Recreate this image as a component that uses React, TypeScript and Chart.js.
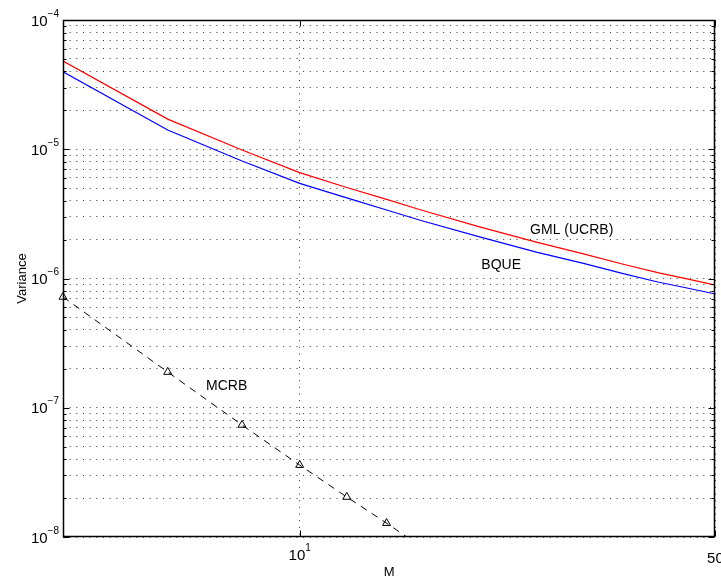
import React, { useEffect, useRef } from 'react';
import { Chart, registerables } from 'chart.js';

Chart.register(...registerables);

const FONT = '"Liberation Sans", Arial, Helvetica, sans-serif';

// M values and variances
const mValues = [4, 6, 8, 10, 12, 14, 16, 20, 25, 30, 35, 40, 45, 50];
const gmlValues = [4.82e-5, 1.71e-5, 9.87e-6, 6.59e-6, 5.06e-6, 4.09e-6, 3.39e-6, 2.52e-6, 1.91e-6, 1.55e-6, 1.29e-6, 1.11e-6, 9.9e-7, 8.9e-7];
const bqueValues = [3.98e-5, 1.41e-5, 8.11e-6, 5.45e-6, 4.2e-6, 3.39e-6, 2.81e-6, 2.11e-6, 1.6e-6, 1.31e-6, 1.09e-6, 9.4e-7, 8.4e-7, 7.59e-7];
const mcrbM = [4, 6, 8, 10, 12, 14, 16];
const mcrbValues = [7.2e-7, 1.89e-7, 7.36e-8, 3.6e-8, 2.04e-8, 1.28e-8, 8.4e-9];

// axes
const xMin = 4;
const xMax = 50;
const yMin = 1e-8;
const yMax = 1e-4;
const xTickValues = [10, 50];
const xTickBases = ['10', '50'];
const xTickExps = ['1', ''];
const yDecadeExps = [-8, -7, -6, -5, -4];
const ySignificands = [1, 2, 3, 4, 5, 6, 7, 8, 9];

// text labels placed in data coordinates
const annotations = [
  { text: 'GML (UCRB)', m: 24.4, v: 2.21e-6 },
  { text: 'BQUE', m: 20.2, v: 1.18e-6 },
  { text: 'MCRB', m: 6.96, v: 1.37e-7 },
];

const yTickValues: number[] = [];
yDecadeExps.forEach((e) => {
  if (e === -4) {
    yTickValues.push(Number('1e' + e));
  } else {
    ySignificands.forEach((s) => yTickValues.push(Number(s + 'e' + e)));
  }
});

const toPoints = (xs: number[], ys: number[]) => xs.map((x, i) => ({ x, y: ys[i] }));

const framePlugin = {
  id: 'matlabFrame',
  afterDraw(chart: any) {
    const { ctx, chartArea, scales } = chart;
    const xs = scales.x;
    const ys = scales.y;
    const L = Math.round(chartArea.left) + 0.5;
    const R = Math.round(chartArea.right) - 0.5;
    const T = Math.round(chartArea.top) + 0.5;
    const B = Math.round(chartArea.bottom) - 0.5;
    ctx.save();
    ctx.strokeStyle = '#000';
    ctx.lineWidth = 1.5;
    ctx.setLineDash([]);
    ctx.beginPath();
    ctx.rect(L, T, R - L, B - T);
    ctx.stroke();

    // y ticks (inward, both sides)
    ctx.lineWidth = 1;
    ctx.beginPath();
    yTickValues.forEach((v) => {
      const y = Math.round(ys.getPixelForValue(v)) + 0.5;
      const major = Math.abs(Math.log10(v) - Math.round(Math.log10(v))) < 1e-9;
      const len = major ? 6 : 3;
      ctx.moveTo(L, y);
      ctx.lineTo(L + len, y);
      ctx.moveTo(R, y);
      ctx.lineTo(R - len, y);
    });
    // x ticks (inward, top and bottom)
    xTickValues.forEach((v) => {
      const x = Math.round(xs.getPixelForValue(v)) + 0.5;
      ctx.moveTo(x, B);
      ctx.lineTo(x, B - 6);
      ctx.moveTo(x, T);
      ctx.lineTo(x, T + 6);
    });
    ctx.stroke();

    ctx.fillStyle = '#000';
    // y tick labels 10^e
    yDecadeExps.forEach((e) => {
      const y = ys.getPixelForValue(Number('1e' + e));
      const expText = '\u2212' + Math.abs(e);
      ctx.font = `10px ${FONT}`;
      const wExp = ctx.measureText(expText).width;
      ctx.font = `15px ${FONT}`;
      const wBase = ctx.measureText('10').width;
      const right = L - 4.5;
      ctx.textAlign = 'left';
      ctx.textBaseline = 'alphabetic';
      ctx.fillText('10', right - wExp - wBase, y + 5.5);
      ctx.font = `10px ${FONT}`;
      ctx.fillText(expText, right - wExp, y - 3.5);
    });

    // x tick labels
    xTickValues.forEach((v, i) => {
      const x = xs.getPixelForValue(v);
      const base = xTickBases[i];
      const exp = xTickExps[i];
      ctx.textBaseline = 'alphabetic';
      ctx.textAlign = 'left';
      if (exp) {
        ctx.font = `15px ${FONT}`;
        const wBase = ctx.measureText(base).width;
        ctx.font = `10px ${FONT}`;
        const wExp = ctx.measureText(exp).width;
        const start = x - (wBase + wExp) / 2;
        ctx.font = `15px ${FONT}`;
        ctx.fillText(base, start, B + 23);
        ctx.font = `10px ${FONT}`;
        ctx.fillText(exp, start + wBase, B + 14);
      } else {
        ctx.font = `15px ${FONT}`;
        ctx.textAlign = 'center';
        ctx.fillText(base, x, B + 26);
      }
    });

    // axis titles
    ctx.font = `13px ${FONT}`;
    ctx.textAlign = 'center';
    ctx.fillText('M', (chartArea.left + chartArea.right) / 2, B + 39);
    ctx.save();
    ctx.translate(25.5, (chartArea.top + chartArea.bottom) / 2);
    ctx.rotate(-Math.PI / 2);
    ctx.fillText('Variance', 0, 0);
    ctx.restore();

    // annotations
    ctx.font = `14px ${FONT}`;
    ctx.textAlign = 'left';
    annotations.forEach((a) => {
      ctx.fillText(a.text, xs.getPixelForValue(a.m), ys.getPixelForValue(a.v));
    });
    ctx.restore();
  },
};

export default function App() {
  const canvasRef = useRef<HTMLCanvasElement | null>(null);

  useEffect(() => {
    if (!canvasRef.current) return;
    const chart = new Chart(canvasRef.current, {
      type: 'line',
      data: {
        datasets: [
          {
            label: 'GML (UCRB)',
            data: toPoints(mValues, gmlValues),
            borderColor: '#ff0000',
            borderWidth: 1.2,
            pointRadius: 0,
            fill: false,
            tension: 0,
            clip: 0,
          },
          {
            label: 'BQUE',
            data: toPoints(mValues, bqueValues),
            borderColor: '#0000ff',
            borderWidth: 1.2,
            pointRadius: 0,
            fill: false,
            tension: 0,
            clip: 0,
          },
          {
            label: 'MCRB',
            data: toPoints(mcrbM, mcrbValues),
            borderColor: '#000000',
            borderWidth: 1,
            borderDash: [7, 6],
            pointStyle: 'triangle',
            pointRadius: 4.6,
            pointBorderColor: '#000000',
            pointBackgroundColor: 'rgba(0,0,0,0)',
            pointBorderWidth: 1,
            fill: false,
            tension: 0,
            clip: { left: 10, top: 0, right: 0, bottom: 0 },
          },
        ] as any,
      },
      options: {
        animation: false,
        responsive: false,
        devicePixelRatio: 1,
        layout: { padding: { top: 20, right: 2, left: 0, bottom: 0 } },
        plugins: { legend: { display: false }, tooltip: { enabled: false } },
        scales: {
          x: {
            type: 'logarithmic',
            min: xMin,
            max: xMax,
            afterBuildTicks: (scale: any) => {
              scale.ticks = xTickValues.map((value) => ({ value }));
            },
            afterFit: (scale: any) => {
              scale.height = 44;
            },
            ticks: { display: false },
            grid: { display: true, drawTicks: false, drawOnChartArea: true, color: '#333', lineWidth: 1 },
            border: { display: false, dash: [1, 5.67] },
          },
          y: {
            type: 'logarithmic',
            min: yMin,
            max: yMax,
            afterBuildTicks: (scale: any) => {
              scale.ticks = yTickValues.map((value) => ({ value }));
            },
            afterFit: (scale: any) => {
              scale.width = 63;
            },
            ticks: { display: false },
            grid: { display: true, drawTicks: false, drawOnChartArea: true, color: '#333', lineWidth: 1 },
            border: { display: false, dash: [1, 5.67] },
          },
        },
      } as any,
      plugins: [framePlugin],
    });
    return () => chart.destroy();
  }, []);

  return (
    <div style={{ position: 'absolute', left: 0, top: 0, width: 721, height: 581, background: '#fff' }}>
      <canvas ref={canvasRef} width={721} height={581} />
    </div>
  );
}
